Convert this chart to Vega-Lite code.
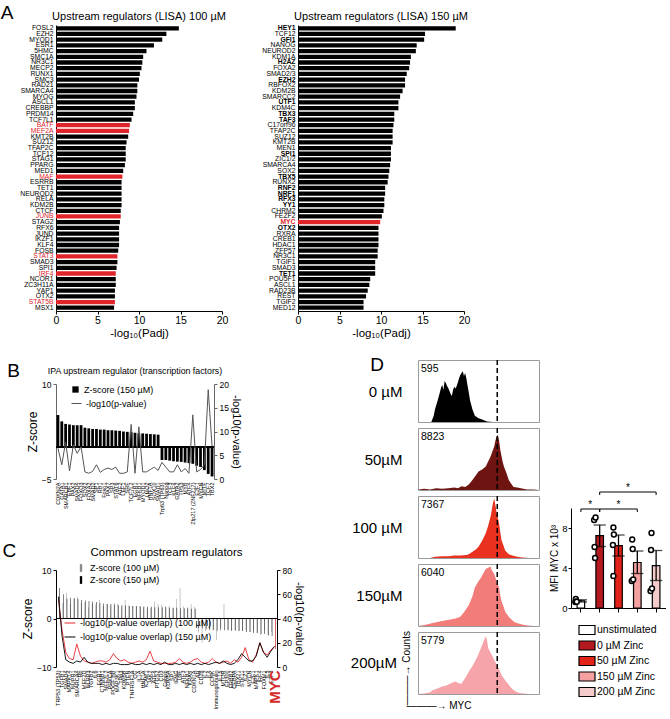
{
"$schema": "https://vega.github.io/schema/vega-lite/v6.json",
"padding": {"left": 0, "top": 3, "right": 0, "bottom": 0},
"background": "white",
"config": {
  "font": "Liberation Sans",
  "view": {"stroke": null},
  "axis": {"labelFont": "Liberation Sans", "titleFont": "Liberation Sans", "titleFontWeight": "normal", "grid": false, "domainColor": "#000", "tickColor": "#000", "labelColor": "#000", "titleColor": "#000"},
  "legend": {"labelFont": "Liberation Sans", "titleFont": "Liberation Sans", "labelColor": "#000"},
  "title": {"font": "Liberation Sans", "fontWeight": "normal", "color": "#000"}
},
"datasets": {
  "lisa100": [
    {"tf":"FOSL2","padj":14.8},{"tf":"EZH2","padj":13.3},{"tf":"MYOD1","padj":12.8},{"tf":"ESR1","padj":11.8},{"tf":"5HMC","padj":10.9},
    {"tf":"SMC1A","padj":10.5},{"tf":"NR3C1","padj":10.4},{"tf":"MECP2","padj":10.3},{"tf":"RUNX1","padj":10.1},{"tf":"SMC3","padj":10.0},
    {"tf":"RAD21","padj":9.8},{"tf":"SMARCA4","padj":9.8},{"tf":"MYOG","padj":9.7},{"tf":"ASCL1","padj":9.5},{"tf":"CREBBP","padj":9.5},
    {"tf":"PRDM14","padj":9.3},{"tf":"TCF7L1","padj":9.1},{"tf":"BATF","padj":8.9},{"tf":"MEF2A","padj":8.8},{"tf":"KMT2B","padj":8.7},
    {"tf":"SUZ12","padj":8.5},{"tf":"TFAP2C","padj":8.4},{"tf":"TCF12","padj":8.4},{"tf":"STAG1","padj":8.4},{"tf":"PPARG","padj":8.3},
    {"tf":"MED1","padj":8.1},{"tf":"MAF","padj":8.0},{"tf":"ESRRB","padj":7.9},{"tf":"TET1","padj":7.9},{"tf":"NEUROD2","padj":7.9},
    {"tf":"RELA","padj":7.9},{"tf":"KDM2B","padj":7.9},{"tf":"CTCF","padj":7.8},{"tf":"JUNB","padj":7.8},{"tf":"STAG2","padj":7.7},
    {"tf":"RFX6","padj":7.6},{"tf":"JUND","padj":7.6},{"tf":"IKZF1","padj":7.6},{"tf":"KLF4","padj":7.6},{"tf":"FOSB","padj":7.5},
    {"tf":"STAT3","padj":7.4},{"tf":"SMAD3","padj":7.4},{"tf":"SPI1","padj":7.3},{"tf":"IRF4","padj":7.2},{"tf":"NCOR1","padj":7.2},
    {"tf":"ZC3H11A","padj":7.2},{"tf":"YAP1","padj":7.1},{"tf":"OTX2","padj":7.1},{"tf":"STAT5B","padj":7.1},{"tf":"MSX1","padj":7.0}
  ],
  "lisa150": [
    {"tf":"HEY1","padj":19.0},{"tf":"TCF12","padj":15.3},{"tf":"GFI1","padj":15.2},{"tf":"NANOG","padj":14.3},{"tf":"NEUROD2","padj":14.2},
    {"tf":"KDM1A","padj":13.6},{"tf":"H2AZ","padj":13.5},{"tf":"FOXA2","padj":13.4},{"tf":"SMAD2/3","padj":13.1},{"tf":"EZH2","padj":12.9},
    {"tf":"RBFOX2","padj":12.9},{"tf":"KDM2B","padj":12.6},{"tf":"SMARCC2","padj":12.3},{"tf":"UTF1","padj":12.1},{"tf":"KDM4C","padj":12.1},
    {"tf":"TBX3","padj":11.6},{"tf":"TAF3","padj":11.6},{"tf":"C17orf96","padj":11.5},{"tf":"TFAP2C","padj":11.4},{"tf":"SUZ12","padj":11.4},
    {"tf":"KMT2B","padj":11.4},{"tf":"MEN1","padj":11.2},{"tf":"SPI1","padj":11.2},{"tf":"ZIC1/2","padj":11.2},{"tf":"SMARCA4","padj":11.1},
    {"tf":"SOX2","padj":11.0},{"tf":"TBX5","padj":10.9},{"tf":"RUNX2","padj":10.8},{"tf":"RNF2","padj":10.5},{"tf":"NRF1","padj":10.5},
    {"tf":"RFX3","padj":10.4},{"tf":"YY1","padj":10.4},{"tf":"CHRM2","padj":10.3},{"tf":"FEZF2","padj":10.1},{"tf":"MYC","padj":9.9},
    {"tf":"OTX2","padj":9.7},{"tf":"RXRA","padj":9.7},{"tf":"CREB1","padj":9.7},{"tf":"HDAC1","padj":9.7},{"tf":"ZFP57","padj":9.6},
    {"tf":"NR3C1","padj":9.6},{"tf":"TGIF1","padj":9.3},{"tf":"SMAD3","padj":9.3},{"tf":"TET1","padj":9.3},{"tf":"POU5F1","padj":8.7},
    {"tf":"ASCL1","padj":8.6},{"tf":"RAD23B","padj":8.4},{"tf":"REST","padj":8.2},{"tf":"TGIF2","padj":7.9},{"tf":"MED12","padj":7.9}
  ],
  "ipa": [
    {"tf":"CDKN2A","z":5.1,"p":6.5},{"tf":"GATA1","z":4.1,"p":3.0},{"tf":"SMARCB1","z":3.7,"p":7.8},{"tf":"EBF1","z":3.6,"p":1.7},
    {"tf":"PAX2","z":3.5,"p":7.2},{"tf":"SMAD4","z":3.5,"p":5.4},{"tf":"FOXO3","z":3.5,"p":6.8},{"tf":"SOX2","z":3.1,"p":1.5},
    {"tf":"FOXA2","z":3.0,"p":1.2},{"tf":"SMAD2","z":2.9,"p":1.6},{"tf":"SP1","z":2.9,"p":3.0},{"tf":"RB1","z":2.8,"p":1.4},
    {"tf":"Foxo1","z":2.8,"p":2.0},{"tf":"PAX7","z":2.7,"p":2.3},{"tf":"SP3","z":2.7,"p":2.0},{"tf":"STAT6","z":2.65,"p":2.5},
    {"tf":"ATF2","z":2.6,"p":1.2},{"tf":"LEF1","z":2.5,"p":1.2},{"tf":"SRF","z":2.45,"p":1.5},{"tf":"TCF7L2","z":2.4,"p":11.5},
    {"tf":"EGR1","z":2.3,"p":1.2},{"tf":"NFKB1","z":2.2,"p":11.0},{"tf":"MYOD1","z":2.2,"p":1.5},{"tf":"LMO2","z":2.15,"p":1.5},
    {"tf":"HNF1A","z":2.1,"p":2.0},{"tf":"SOX10","z":2.05,"p":2.5},{"tf":"SMAD1","z":2.0,"p":1.8},{"tf":"Trp63 (TP63)","z":-2.0,"p":3.5},
    {"tf":"Nanog","z":-2.0,"p":2.5},{"tf":"TCF3","z":-2.1,"p":1.5},{"tf":"KLF4","z":-2.2,"p":1.5},{"tf":"GATA2","z":-2.25,"p":3.0},
    {"tf":"TP53","z":-2.3,"p":1.5},{"tf":"MYB","z":-2.4,"p":2.2},{"tf":"ATF4","z":-2.5,"p":1.2},{"tf":"Zfp217 (ZNF217)","z":-2.6,"p":13.5},
    {"tf":"E2F1","z":-2.9,"p":1.5},{"tf":"MYCN","z":-3.1,"p":2.0},{"tf":"MITF","z":-3.6,"p":3.0},{"tf":"TCF7","z":-4.2,"p":18.8},
    {"tf":"TBX2","z":-4.6,"p":6.9}
  ],
  "common": [
    {"reg":"TRP53 (TP53)","z100":4.6,"z150":6.3,"p100":56,"p150":58},
    {"reg":"TGFB1","z100":3.2,"z150":5.0,"p100":30,"p150":25},
    {"reg":"SMAD4","z100":5.3,"z150":4.1,"p100":12,"p150":6},
    {"reg":"MAPK14","z100":3.0,"z150":4.3,"p100":7,"p150":4},
    {"reg":"NUPR1","z100":4.2,"z150":4.2,"p100":6,"p150":3},
    {"reg":"SMARCA4","z100":4.5,"z150":4.0,"p100":19,"p150":5},
    {"reg":"Rb","z100":3.2,"z150":3.8,"p100":9,"p150":4},
    {"reg":"MEF2D","z100":3.3,"z150":3.7,"p100":5,"p150":8},
    {"reg":"NLRP3","z100":2.3,"z150":3.6,"p100":4,"p150":4},
    {"reg":"TGFB2","z100":3.0,"z150":3.5,"p100":3,"p150":3},
    {"reg":"IL6","z100":2.9,"z150":3.4,"p100":4,"p150":3},
    {"reg":"EGR1","z100":3.8,"z150":3.2,"p100":5,"p150":3},
    {"reg":"CTNNB1","z100":2.6,"z150":3.1,"p100":5,"p150":2},
    {"reg":"NFE2L2","z100":3.0,"z150":3.0,"p100":4,"p150":3},
    {"reg":"PRKCA","z100":2.7,"z150":3.0,"p100":6,"p150":2},
    {"reg":"PDGF BB","z100":3.2,"z150":2.9,"p100":11,"p150":3},
    {"reg":"MAP3K1","z100":3.0,"z150":2.8,"p100":7,"p150":3},
    {"reg":"TP63","z100":2.3,"z150":2.8,"p100":5,"p150":2},
    {"reg":"KDM5B","z100":3.8,"z150":2.7,"p100":6,"p150":2},
    {"reg":"PTEN","z100":2.7,"z150":2.6,"p100":4,"p150":2},
    {"reg":"TNFRSF1A","z100":2.6,"z150":2.6,"p100":3,"p150":3},
    {"reg":"CG","z100":2.5,"z150":2.6,"p100":4,"p150":2},
    {"reg":"IL1A","z100":2.6,"z150":2.5,"p100":5,"p150":2},
    {"reg":"HNF1A","z100":2.3,"z150":2.5,"p100":4,"p150":3},
    {"reg":"ICAM1","z100":2.0,"z150":2.4,"p100":6,"p150":2},
    {"reg":"JAK2","z100":2.2,"z150":2.4,"p100":13,"p150":3},
    {"reg":"ATF4","z100":3.5,"z150":2.3,"p100":5,"p150":2},
    {"reg":"PTGS2","z100":3.0,"z150":2.3,"p100":4,"p150":3},
    {"reg":"CD3","z100":2.8,"z150":2.3,"p100":3,"p150":2},
    {"reg":"Cebpb","z100":2.6,"z150":2.3,"p100":3,"p150":4},
    {"reg":"KDM5A","z100":2.6,"z150":2.2,"p100":3,"p150":2},
    {"reg":"SP1","z100":2.1,"z150":2.2,"p100":3,"p150":2},
    {"reg":"IFNG","z100":4.0,"z150":2.2,"p100":4,"p150":3},
    {"reg":"TNF","z100":6.3,"z150":2.1,"p100":7,"p150":2},
    {"reg":"ATF3","z100":2.5,"z150":2.1,"p100":4,"p150":3},
    {"reg":"NFKB1","z100":2.3,"z150":2.1,"p100":3,"p150":2},
    {"reg":"KRAS","z100":3.0,"z150":2.0,"p100":4,"p150":3},
    {"reg":"CDKN1A","z100":2.4,"z150":2.0,"p100":6,"p150":2},
    {"reg":"AR","z100":-2.9,"z150":-2.0,"p100":7,"p150":3},
    {"reg":"CD28","z100":-5.0,"z150":-2.0,"p100":4,"p150":2},
    {"reg":"IL2","z100":-2.6,"z150":-2.2,"p100":3,"p150":3},
    {"reg":"IL4","z100":-2.4,"z150":-2.3,"p100":4,"p150":2},
    {"reg":"CCNK","z100":-2.5,"z150":-2.3,"p100":7,"p150":3},
    {"reg":"Immunoglobulin","z100":-4.4,"z150":-2.5,"p100":4,"p150":4},
    {"reg":"IL15","z100":-2.6,"z150":-2.2,"p100":3,"p150":3},
    {"reg":"MTOR","z100":3.0,"z150":-2.4,"p100":4,"p150":5},
    {"reg":"EP300","z100":-2.3,"z150":-2.4,"p100":5,"p150":3},
    {"reg":"ERBB2","z100":-2.5,"z150":-2.5,"p100":3,"p150":2},
    {"reg":"CEBPA","z100":-2.3,"z150":-2.5,"p100":6,"p150":3},
    {"reg":"TBX21","z100":-2.6,"z150":-2.6,"p100":4,"p150":6},
    {"reg":"STK11","z100":-2.5,"z150":-2.6,"p100":8,"p150":11},
    {"reg":"IL21","z100":-2.4,"z150":-2.8,"p100":16,"p150":8},
    {"reg":"MYCN","z100":-2.8,"z150":-2.8,"p100":6,"p150":5},
    {"reg":"E2F1","z100":-2.5,"z150":-3.0,"p100":4,"p150":5},
    {"reg":"MAPK1","z100":-3.0,"z150":-3.0,"p100":10,"p150":9},
    {"reg":"IRF4","z100":-3.4,"z150":-3.2,"p100":20,"p150":20},
    {"reg":"FOXM1","z100":-2.5,"z150":-3.2,"p100":12,"p150":12},
    {"reg":"IL5","z100":-3.4,"z150":-3.5,"p100":10,"p150":8},
    {"reg":"E2F3","z100":-2.8,"z150":-3.6,"p100":14,"p150":13},
    {"reg":"MYC","z100":-6.3,"z150":-6.3,"p100":17,"p150":17}
  ],
  "hist": [
    {"conc":"0 µM","myc":0,"count":0},{"conc":"0 µM","myc":11,"count":0},{"conc":"0 µM","myc":13,"count":10},{"conc":"0 µM","myc":14,"count":20},
    {"conc":"0 µM","myc":16,"count":33},{"conc":"0 µM","myc":18,"count":47},{"conc":"0 µM","myc":19,"count":55},{"conc":"0 µM","myc":20,"count":60},
    {"conc":"0 µM","myc":21,"count":52},{"conc":"0 µM","myc":22,"count":66},{"conc":"0 µM","myc":23,"count":63},{"conc":"0 µM","myc":24,"count":58},
    {"conc":"0 µM","myc":25,"count":55},{"conc":"0 µM","myc":26,"count":50},{"conc":"0 µM","myc":27,"count":45},{"conc":"0 µM","myc":28,"count":42},
    {"conc":"0 µM","myc":29,"count":52},{"conc":"0 µM","myc":30,"count":57},{"conc":"0 µM","myc":31,"count":54},{"conc":"0 µM","myc":32,"count":58},
    {"conc":"0 µM","myc":33,"count":64},{"conc":"0 µM","myc":34,"count":71},{"conc":"0 µM","myc":35,"count":76},{"conc":"0 µM","myc":36,"count":79},
    {"conc":"0 µM","myc":37,"count":82},{"conc":"0 µM","myc":38,"count":74},{"conc":"0 µM","myc":39,"count":79},{"conc":"0 µM","myc":40,"count":70},
    {"conc":"0 µM","myc":41,"count":58},{"conc":"0 µM","myc":42,"count":47},{"conc":"0 µM","myc":43,"count":35},{"conc":"0 µM","myc":45,"count":20},
    {"conc":"0 µM","myc":47,"count":10},{"conc":"0 µM","myc":50,"count":6},{"conc":"0 µM","myc":53,"count":4},{"conc":"0 µM","myc":57,"count":1},
    {"conc":"0 µM","myc":62,"count":0},{"conc":"0 µM","myc":100,"count":0},
    {"conc":"50µM","myc":0,"count":0},{"conc":"50µM","myc":1,"count":1},{"conc":"50µM","myc":5,"count":2},{"conc":"50µM","myc":10,"count":1},
    {"conc":"50µM","myc":15,"count":3},{"conc":"50µM","myc":20,"count":2},{"conc":"50µM","myc":25,"count":3},{"conc":"50µM","myc":30,"count":4},
    {"conc":"50µM","myc":33,"count":3},{"conc":"50µM","myc":36,"count":6},{"conc":"50µM","myc":39,"count":5},{"conc":"50µM","myc":42,"count":9},
    {"conc":"50µM","myc":45,"count":16},{"conc":"50µM","myc":48,"count":24},{"conc":"50µM","myc":50,"count":30},{"conc":"50µM","myc":53,"count":33},
    {"conc":"50µM","myc":56,"count":38},{"conc":"50µM","myc":58,"count":46},{"conc":"50µM","myc":60,"count":54},{"conc":"50µM","myc":62,"count":65},
    {"conc":"50µM","myc":63,"count":70},{"conc":"50µM","myc":64,"count":80},{"conc":"50µM","myc":65,"count":86},{"conc":"50µM","myc":66,"count":89},
    {"conc":"50µM","myc":67,"count":80},{"conc":"50µM","myc":68,"count":65},{"conc":"50µM","myc":69,"count":55},{"conc":"50µM","myc":70,"count":45},
    {"conc":"50µM","myc":71,"count":38},{"conc":"50µM","myc":73,"count":28},{"conc":"50µM","myc":75,"count":16},{"conc":"50µM","myc":77,"count":10},
    {"conc":"50µM","myc":79,"count":5},{"conc":"50µM","myc":82,"count":4},{"conc":"50µM","myc":85,"count":3},{"conc":"50µM","myc":90,"count":1},
    {"conc":"50µM","myc":95,"count":1},{"conc":"50µM","myc":100,"count":0},
    {"conc":"100 µM","myc":0,"count":0},{"conc":"100 µM","myc":10,"count":0},{"conc":"100 µM","myc":14,"count":2},{"conc":"100 µM","myc":20,"count":3},
    {"conc":"100 µM","myc":25,"count":3},{"conc":"100 µM","myc":30,"count":4},{"conc":"100 µM","myc":35,"count":4},{"conc":"100 µM","myc":40,"count":5},
    {"conc":"100 µM","myc":42,"count":6},{"conc":"100 µM","myc":45,"count":10},{"conc":"100 µM","myc":48,"count":14},{"conc":"100 µM","myc":50,"count":18},
    {"conc":"100 µM","myc":53,"count":28},{"conc":"100 µM","myc":56,"count":40},{"conc":"100 µM","myc":58,"count":52},{"conc":"100 µM","myc":60,"count":67},
    {"conc":"100 µM","myc":61,"count":78},{"conc":"100 µM","myc":62,"count":89},{"conc":"100 µM","myc":63,"count":96},{"conc":"100 µM","myc":64,"count":85},
    {"conc":"100 µM","myc":65,"count":73},{"conc":"100 µM","myc":66,"count":64},{"conc":"100 µM","myc":67,"count":56},{"conc":"100 µM","myc":68,"count":42},
    {"conc":"100 µM","myc":69,"count":29},{"conc":"100 µM","myc":71,"count":18},{"conc":"100 µM","myc":72,"count":12},{"conc":"100 µM","myc":75,"count":6},
    {"conc":"100 µM","myc":78,"count":4},{"conc":"100 µM","myc":82,"count":2},{"conc":"100 µM","myc":86,"count":1},{"conc":"100 µM","myc":92,"count":0},
    {"conc":"100 µM","myc":100,"count":0},
    {"conc":"150µM","myc":0,"count":0},{"conc":"150µM","myc":3,"count":1},{"conc":"150µM","myc":8,"count":3},{"conc":"150µM","myc":12,"count":5},
    {"conc":"150µM","myc":17,"count":7},{"conc":"150µM","myc":22,"count":9},{"conc":"150µM","myc":26,"count":10},{"conc":"150µM","myc":31,"count":12},
    {"conc":"150µM","myc":35,"count":15},{"conc":"150µM","myc":38,"count":22},{"conc":"150µM","myc":42,"count":34},{"conc":"150µM","myc":45,"count":48},
    {"conc":"150µM","myc":47,"count":62},{"conc":"150µM","myc":50,"count":72},{"conc":"150µM","myc":52,"count":78},{"conc":"150µM","myc":54,"count":85},
    {"conc":"150µM","myc":56,"count":92},{"conc":"150µM","myc":58,"count":94},{"conc":"150µM","myc":60,"count":96},{"conc":"150µM","myc":61,"count":90},
    {"conc":"150µM","myc":63,"count":84},{"conc":"150µM","myc":65,"count":72},{"conc":"150µM","myc":67,"count":62},{"conc":"150µM","myc":68,"count":50},
    {"conc":"150µM","myc":69,"count":40},{"conc":"150µM","myc":71,"count":30},{"conc":"150µM","myc":72,"count":23},{"conc":"150µM","myc":75,"count":15},
    {"conc":"150µM","myc":78,"count":9},{"conc":"150µM","myc":80,"count":6},{"conc":"150µM","myc":83,"count":4},{"conc":"150µM","myc":87,"count":2},
    {"conc":"150µM","myc":91,"count":1},{"conc":"150µM","myc":96,"count":0},{"conc":"150µM","myc":100,"count":0},
    {"conc":"200µM","myc":0,"count":0},{"conc":"200µM","myc":5,"count":1},{"conc":"200µM","myc":10,"count":3},{"conc":"200µM","myc":12,"count":6},
    {"conc":"200µM","myc":15,"count":8},{"conc":"200µM","myc":20,"count":12},{"conc":"200µM","myc":24,"count":14},{"conc":"200µM","myc":28,"count":18},
    {"conc":"200µM","myc":31,"count":20},{"conc":"200µM","myc":34,"count":17},{"conc":"200µM","myc":36,"count":17},{"conc":"200µM","myc":39,"count":26},
    {"conc":"200µM","myc":42,"count":36},{"conc":"200µM","myc":45,"count":45},{"conc":"200µM","myc":47,"count":52},{"conc":"200µM","myc":50,"count":64},
    {"conc":"200µM","myc":52,"count":74},{"conc":"200µM","myc":54,"count":84},{"conc":"200µM","myc":56,"count":93},{"conc":"200µM","myc":57,"count":88},
    {"conc":"200µM","myc":58,"count":74},{"conc":"200µM","myc":60,"count":66},{"conc":"200µM","myc":61,"count":63},{"conc":"200µM","myc":63,"count":55},
    {"conc":"200µM","myc":65,"count":47},{"conc":"200µM","myc":67,"count":40},{"conc":"200µM","myc":69,"count":31},{"conc":"200µM","myc":72,"count":22},
    {"conc":"200µM","myc":75,"count":15},{"conc":"200µM","myc":77,"count":10},{"conc":"200µM","myc":79,"count":6},{"conc":"200µM","myc":83,"count":2},
    {"conc":"200µM","myc":87,"count":1},{"conc":"200µM","myc":92,"count":0},{"conc":"200µM","myc":100,"count":0}
  ],
  "mfi": [
    {"conc":"0 µM","mfi":"595","ref":65.5},{"conc":"50µM","mfi":"8823","ref":65.5},{"conc":"100 µM","mfi":"7367","ref":65.5},
    {"conc":"150µM","mfi":"6040","ref":65.5},{"conc":"200µM","mfi":"5779","ref":65.5}
  ],
  "bars": [
    {"cond":"unstimulated","mean":0.71,"lo":0.6,"hi":0.82},
    {"cond":"0  µM Zinc","mean":7.24,"lo":6.15,"hi":8.3},
    {"cond":"50  µM Zinc","mean":6.23,"lo":5.2,"hi":7.3},
    {"cond":"150  µM Zinc","mean":4.55,"lo":3.45,"hi":5.7},
    {"cond":"200  µM Zinc","mean":4.24,"lo":2.75,"hi":5.75}
  ],
  "pts": [
    {"cond":"unstimulated","rep":"r1","v":0.6},{"cond":"unstimulated","rep":"r2","v":0.9},{"cond":"unstimulated","rep":"r3","v":0.65},{"cond":"unstimulated","rep":"r4","v":0.62},
    {"cond":"0  µM Zinc","rep":"r1","v":8.8},{"cond":"0  µM Zinc","rep":"r2","v":6.1},{"cond":"0  µM Zinc","rep":"r3","v":5.0},{"cond":"0  µM Zinc","rep":"r4","v":9.05},
    {"cond":"50  µM Zinc","rep":"r1","v":6.3},{"cond":"50  µM Zinc","rep":"r2","v":8.05},{"cond":"50  µM Zinc","rep":"r3","v":7.35},{"cond":"50  µM Zinc","rep":"r2","v":3.2},
    {"cond":"150  µM Zinc","rep":"r1","v":2.7},{"cond":"150  µM Zinc","rep":"r2","v":6.85},{"cond":"150  µM Zinc","rep":"r3","v":5.9},{"cond":"150  µM Zinc","rep":"r4","v":2.85},
    {"cond":"200  µM Zinc","rep":"r1","v":1.7},{"cond":"200  µM Zinc","rep":"r2","v":5.8},{"cond":"200  µM Zinc","rep":"r3","v":7.5},{"cond":"200  µM Zinc","rep":"r4","v":1.95}
  ],
  "brackets": [
    {"g1":"unstimulated","g2":"0  µM Zinc","y":9.9,"yend":9.6},
    {"g1":"0  µM Zinc","g2":"150  µM Zinc","y":9.9,"yend":9.6},
    {"g1":"0  µM Zinc","g2":"200  µM Zinc","y":11.6,"yend":11.3}
  ],
  "stars": [
    {"over":"unstimulated","y":10.35,"pos":"mid"},
    {"over":"50  µM Zinc","y":10.35,"pos":"center"},
    {"over":"50  µM Zinc","y":12.05,"pos":"mid"}
  ]
},
"resolve": {"scale": {"color": "independent", "fill": "independent", "stroke": "independent"}},
"columns": 1,
"align": "none",
"spacing": 16,
"concat": [
  {
    "title": {"text": "A", "anchor": "start", "fontSize": 19, "offset": -12, "dx": -19},
    "resolve": {"scale": {"color": "independent", "fill": "independent", "stroke": "independent"}},
    "hconcat": [
      {
        "width": 166, "height": 286,
        "title": {"text": "Upstream regulators (LISA) 100 µM", "fontSize": 11, "offset": 3},
        "data": {"name": "lisa100"},
        "mark": {"type": "bar"},
        "encoding": {
          "y": {"field": "tf", "type": "nominal", "sort": null,
                "scale": {"paddingInner": 0.25, "paddingOuter": 0.2},
                "axis": {"title": null, "ticks": false, "labelFontSize": 6.8, "labelPadding": 3, "labelOverlap": false,
                         "labelColor": {"condition": {"test": "indexof(['BATF','MEF2A','MAF','JUNB','STAT3','IRF4','STAT5B'], datum.value) >= 0", "value": "#e0242a"}, "value": "#000"}}},
          "x": {"field": "padj", "type": "quantitative", "scale": {"domain": [0, 20], "nice": false},
                "axis": {"values": [0, 5, 10, 15, 20], "title": "-log₁₀(Padj)", "titleFontSize": 11.5, "labelFontSize": 10.5, "tickSize": 3, "labelPadding": 1, "labelFlush": false, "titlePadding": 2}},
          "color": {"condition": {"test": "indexof(['BATF','MEF2A','MAF','JUNB','STAT3','IRF4','STAT5B'], datum.tf) >= 0", "value": "#e0242a"}, "value": "#000"}
        }
      },
      {
        "width": 166, "height": 286,
        "title": {"text": "Upstream regulators (LISA) 150 µM", "fontSize": 11, "offset": 3},
        "data": {"name": "lisa150"},
        "mark": {"type": "bar"},
        "encoding": {
          "y": {"field": "tf", "type": "nominal", "sort": null,
                "scale": {"paddingInner": 0.25, "paddingOuter": 0.2},
                "axis": {"title": null, "ticks": false, "labelFontSize": 6.8, "labelPadding": 3, "labelOverlap": false,
                         "labelFontWeight": {"condition": {"test": "indexof(['HEY1','GFI1','H2AZ','EZH2','UTF1','TBX3','TAF3','SPI1','TBX5','RNF2','NRF1','RFX3','YY1','OTX2','TET1','MYC'], datum.value) >= 0", "value": "bold"}, "value": "normal"},
                         "labelColor": {"condition": {"test": "datum.value === 'MYC'", "value": "#e0242a"}, "value": "#000"}}},
          "x": {"field": "padj", "type": "quantitative", "scale": {"domain": [0, 20], "nice": false},
                "axis": {"values": [0, 5, 10, 15, 20], "title": "-log₁₀(Padj)", "titleFontSize": 11.5, "labelFontSize": 10.5, "tickSize": 3, "labelPadding": 1, "labelFlush": false, "titlePadding": 2}},
          "color": {"condition": {"test": "datum.tf === 'MYC'", "value": "#e0242a"}, "value": "#000"}
        }
      }
    ],
    "spacing": 33
  },
  {
    "resolve": {"scale": {"color": "independent", "fill": "independent", "stroke": "independent"}},
    "align": "none",
    "spacing": 45,
    "concat": [
      {
        "resolve": {"scale": {"color": "independent", "fill": "independent", "stroke": "independent"}},
        "columns": 1,
        "align": "none",
        "spacing": 1,
        "concat": [
          {"width": 1, "height": 1, "data": {"values": []}, "mark": "point"},
          {
            "title": {"text": "B", "anchor": "start", "fontSize": 19, "offset": -14, "dx": -19},
            "vconcat": [
              {
                "width": 158, "height": 95,
                "title": {"text": "IPA upstream regulator (transcription factors)", "fontSize": 8.8, "offset": 4},
                "data": {"name": "ipa"},
                "layer": [
                  {
                    "layer": [
                      {
                        "mark": {"type": "bar", "width": {"band": 0.85}},
                        "encoding": {
                          "x": {"field": "tf", "type": "nominal", "sort": null, "scale": {"paddingInner": 0.15},
                                "axis": {"title": null, "labelAngle": -90, "labelFontSize": 5.5, "labelPadding": 3, "ticks": false, "domain": false, "labelOverlap": false}},
                          "y": {"field": "z", "type": "quantitative", "scale": {"domain": [-5, 10], "nice": false},
                                "axis": {"title": "Z-score", "titleFontSize": 12, "values": [-5, 0, 5, 10], "labelFontSize": 8.5, "tickSize": 3, "domainColor": "#666", "tickColor": "#666", "titlePadding": 2}},
                          "fill": {"datum": "Z-score (150 µM)", "scale": {"range": ["#000"]},
                                   "legend": {"title": null, "orient": "none", "legendX": 15, "legendY": 1, "symbolType": "square", "symbolSize": 40, "labelFontSize": 9}}
                        }
                      },
                      {"mark": {"type": "rule", "color": "#000", "strokeWidth": 1}, "encoding": {"y": {"datum": 0}}}
                    ]
                  },
                  {
                    "mark": {"type": "line", "strokeWidth": 1},
                    "encoding": {
                      "x": {"field": "tf", "type": "nominal", "sort": null},
                      "y": {"field": "p", "type": "quantitative", "scale": {"domain": [0, 20], "nice": false},
                            "axis": {"orient": "right", "title": "-log10(p-value)", "titleFontSize": 11, "values": [0, 5, 10, 15, 20], "labelFontSize": 8.5, "tickSize": 3, "domainColor": "#666", "tickColor": "#666", "titlePadding": 2}},
                      "stroke": {"datum": "-log10(p-value)", "scale": {"range": ["#555"]},
                                 "legend": {"title": null, "orient": "none", "legendX": 15, "legendY": 14, "symbolType": "stroke", "symbolSize": 100, "symbolStrokeWidth": 1, "labelFontSize": 9}}
                    }
                  }
                ],
                "resolve": {"scale": {"y": "independent", "fill": "independent", "stroke": "independent"}}
              }
            ]
          },
          {"width": 1, "height": 14, "data": {"values": []}, "mark": "point"},
          {
            "title": {"text": "C", "anchor": "start", "fontSize": 19, "offset": -14, "dx": -19},
            "vconcat": [
              {
                "width": 221, "height": 97,
                "title": {"text": "Common upstream regulators", "fontSize": 11.5, "offset": 5},
                "data": {"name": "common"},
                "layer": [
                  {
                    "layer": [
                      {
                        "transform": [{"fold": ["z100", "z150"], "as": ["series", "z"]}],
                        "mark": {"type": "bar"},
                        "encoding": {
                          "x": {"field": "reg", "type": "nominal", "sort": null, "scale": {"paddingInner": 0.05},
                                "axis": {"title": null, "labelAngle": -90, "labelPadding": 3, "ticks": false, "domain": false, "labelOverlap": false,
                                         "labelFontSize": {"condition": {"test": "datum.value === 'MYC'", "value": 15}, "value": 5.5},
                                         "labelFontWeight": {"condition": {"test": "datum.value === 'MYC'", "value": "bold"}, "value": "normal"},
                                         "labelColor": {"condition": {"test": "datum.value === 'MYC'", "value": "#d42a2a"}, "value": "#000"}}},
                          "xOffset": {"field": "series", "type": "nominal", "sort": ["z100", "z150"], "scale": {"paddingInner": 0}},
                          "y": {"field": "z", "type": "quantitative", "scale": {"domain": [-10, 10], "nice": false},
                                "axis": {"title": "Z-score", "titleFontSize": 12, "values": [-10, -5, 0, 5, 10], "labelFontSize": 8.5, "tickSize": 3, "titlePadding": 2}},
                          "fill": {"condition": {"test": "datum.reg === 'MYC'", "value": "#d42a2a"},
                                   "field": "series", "type": "nominal", "scale": {"domain": ["z100", "z150"], "range": ["#8a8a8a", "#000"]},
                                   "legend": {"title": null, "orient": "none", "legendX": 20, "legendY": -7, "symbolType": "M-0.3,-1H0.3V1H-0.3Z", "symbolSize": 60, "labelFontSize": 9, "rowPadding": 2,
                                              "labelExpr": "datum.label === 'z100' ? 'Z-score (100 µM)' : 'Z-score (150 µM)'"}}
                        }
                      },
                      {"mark": {"type": "rule", "color": "#000", "strokeWidth": 1}, "encoding": {"y": {"datum": 0}}}
                    ]
                  },
                  {
                    "transform": [{"fold": ["p100", "p150"], "as": ["pseries", "p"]}],
                    "mark": {"type": "line", "strokeWidth": 0.9},
                    "encoding": {
                      "x": {"field": "reg", "type": "nominal", "sort": null},
                      "y": {"field": "p", "type": "quantitative", "scale": {"domain": [0, 80], "nice": false},
                            "axis": {"orient": "right", "title": "-log10(p-value)", "titleFontSize": 11, "values": [0, 20, 40, 60, 80], "labelFontSize": 8.5, "tickSize": 3, "titlePadding": 2}},
                      "stroke": {"field": "pseries", "type": "nominal", "scale": {"domain": ["p100", "p150"], "range": ["#e8292e", "#000"]},
                                 "legend": {"title": null, "orient": "none", "legendX": 8, "legendY": 47, "symbolType": "stroke", "symbolSize": 120, "symbolStrokeWidth": 1, "labelFontSize": 9, "rowPadding": 3,
                                            "labelExpr": "datum.label === 'p100' ? '-log10(p-value overlap) (100 µM)' : '-log10(p-value overlap) (150 µM)'"}}
                    }
                  }
                ],
                "resolve": {"scale": {"y": "independent", "fill": "independent", "stroke": "independent"}}
              }
            ]
          }
        ]
      },
      {
        "title": {"text": "D", "anchor": "start", "fontSize": 19, "offset": -16, "dx": 20},
        "resolve": {"scale": {"color": "independent", "fill": "independent", "stroke": "independent"}},
        "align": "none",
        "spacing": 9,
        "concat": [
          {
            "bounds": "flush",
            "vconcat": [
              {
                "width": 121, "height": 62, "view": {"stroke": "#9a9a9a"},
                "layer": [
                  {"data": {"name": "hist"}, "transform": [{"filter": "datum.conc === '0 µM'"}], "mark": {"type": "area", "color": "#000"},
                   "encoding": {"x": {"field": "myc", "type": "quantitative", "scale": {"domain": [0, 100], "nice": false}, "axis": null},
                                "y": {"field": "count", "type": "quantitative", "scale": {"domain": [0, 100], "nice": false},
                                      "axis": {"title": "0 µM", "labels": false, "ticks": false, "domain": false, "titleAngle": 0, "titleAlign": "right", "titleBaseline": "middle", "titleFontSize": 15, "titlePadding": 16}}}},
                  {"data": {"name": "mfi"}, "transform": [{"filter": "datum.conc === '0 µM'"}], "mark": {"type": "rule", "strokeDash": [5, 3], "strokeWidth": 1.5, "color": "#000"},
                   "encoding": {"x": {"field": "ref", "type": "quantitative"}}},
                  {"data": {"name": "mfi"}, "transform": [{"filter": "datum.conc === '0 µM'"}], "mark": {"type": "text", "align": "left", "baseline": "top", "fontSize": 10.5, "dx": 3, "dy": 4},
                   "encoding": {"x": {"datum": 0}, "y": {"datum": 100}, "text": {"field": "mfi", "type": "nominal"}}}
                ]
              },
              {
                "width": 121, "height": 62, "view": {"stroke": "#9a9a9a"},
                "layer": [
                  {"data": {"name": "hist"}, "transform": [{"filter": "datum.conc === '50µM'"}], "mark": {"type": "area", "color": "#6e1411"},
                   "encoding": {"x": {"field": "myc", "type": "quantitative", "scale": {"domain": [0, 100], "nice": false}, "axis": null},
                                "y": {"field": "count", "type": "quantitative", "scale": {"domain": [0, 100], "nice": false},
                                      "axis": {"title": "50µM", "labels": false, "ticks": false, "domain": false, "titleAngle": 0, "titleAlign": "right", "titleBaseline": "middle", "titleFontSize": 15, "titlePadding": 16}}}},
                  {"data": {"name": "mfi"}, "transform": [{"filter": "datum.conc === '50µM'"}], "mark": {"type": "rule", "strokeDash": [5, 3], "strokeWidth": 1.5, "color": "#000"},
                   "encoding": {"x": {"field": "ref", "type": "quantitative"}}},
                  {"data": {"name": "mfi"}, "transform": [{"filter": "datum.conc === '50µM'"}], "mark": {"type": "text", "align": "left", "baseline": "top", "fontSize": 10.5, "dx": 3, "dy": 4},
                   "encoding": {"x": {"datum": 0}, "y": {"datum": 100}, "text": {"field": "mfi", "type": "nominal"}}}
                ]
              },
              {
                "width": 121, "height": 62, "view": {"stroke": "#9a9a9a"},
                "layer": [
                  {"data": {"name": "hist"}, "transform": [{"filter": "datum.conc === '100 µM'"}], "mark": {"type": "area", "color": "#e8311f"},
                   "encoding": {"x": {"field": "myc", "type": "quantitative", "scale": {"domain": [0, 100], "nice": false}, "axis": null},
                                "y": {"field": "count", "type": "quantitative", "scale": {"domain": [0, 100], "nice": false},
                                      "axis": {"title": "100 µM", "labels": false, "ticks": false, "domain": false, "titleAngle": 0, "titleAlign": "right", "titleBaseline": "middle", "titleFontSize": 15, "titlePadding": 16}}}},
                  {"data": {"name": "mfi"}, "transform": [{"filter": "datum.conc === '100 µM'"}], "mark": {"type": "rule", "strokeDash": [5, 3], "strokeWidth": 1.5, "color": "#000"},
                   "encoding": {"x": {"field": "ref", "type": "quantitative"}}},
                  {"data": {"name": "mfi"}, "transform": [{"filter": "datum.conc === '100 µM'"}], "mark": {"type": "text", "align": "left", "baseline": "top", "fontSize": 10.5, "dx": 3, "dy": 4},
                   "encoding": {"x": {"datum": 0}, "y": {"datum": 100}, "text": {"field": "mfi", "type": "nominal"}}}
                ]
              },
              {
                "width": 121, "height": 62, "view": {"stroke": "#9a9a9a"},
                "layer": [
                  {"data": {"name": "hist"}, "transform": [{"filter": "datum.conc === '150µM'"}], "mark": {"type": "area", "color": "#f27c79"},
                   "encoding": {"x": {"field": "myc", "type": "quantitative", "scale": {"domain": [0, 100], "nice": false}, "axis": null},
                                "y": {"field": "count", "type": "quantitative", "scale": {"domain": [0, 100], "nice": false},
                                      "axis": {"title": "150µM", "labels": false, "ticks": false, "domain": false, "titleAngle": 0, "titleAlign": "right", "titleBaseline": "middle", "titleFontSize": 15, "titlePadding": 16}}}},
                  {"data": {"name": "mfi"}, "transform": [{"filter": "datum.conc === '150µM'"}], "mark": {"type": "rule", "strokeDash": [5, 3], "strokeWidth": 1.5, "color": "#000"},
                   "encoding": {"x": {"field": "ref", "type": "quantitative"}}},
                  {"data": {"name": "mfi"}, "transform": [{"filter": "datum.conc === '150µM'"}], "mark": {"type": "text", "align": "left", "baseline": "top", "fontSize": 10.5, "dx": 3, "dy": 4},
                   "encoding": {"x": {"datum": 0}, "y": {"datum": 100}, "text": {"field": "mfi", "type": "nominal"}}}
                ]
              },
              {
                "width": 121, "height": 62, "view": {"stroke": "#9a9a9a"},
                "title": {"text": "200µM", "orient": "left", "angle": 0, "align": "left", "baseline": "middle", "anchor": "middle", "fontSize": 15, "offset": 4},
                "layer": [
                  {"data": {"name": "hist"}, "transform": [{"filter": "datum.conc === '200µM'"}], "mark": {"type": "area", "color": "#f6a4a9"},
                   "encoding": {"x": {"field": "myc", "type": "quantitative", "scale": {"domain": [0, 100], "nice": false},
                                      "axis": {"title": "———→ MYC", "labels": false, "ticks": false, "domain": false, "titleAnchor": "start", "titleAlign": "left", "titleBaseline": "middle", "titleX": -12, "titleY": 11, "titleFontSize": 10}},
                                "y": {"field": "count", "type": "quantitative", "scale": {"domain": [0, 100], "nice": false},
                                      "axis": {"title": "———→  Counts", "labels": false, "ticks": false, "domain": false, "titleAngle": 270, "titleAlign": "left", "titleBaseline": "middle", "titleX": -12, "titleY": 73, "titleFontSize": 10}}}},
                  {"data": {"name": "mfi"}, "transform": [{"filter": "datum.conc === '200µM'"}], "mark": {"type": "rule", "strokeDash": [5, 3], "strokeWidth": 1.5, "color": "#000"},
                   "encoding": {"x": {"field": "ref", "type": "quantitative"}}},
                  {"data": {"name": "mfi"}, "transform": [{"filter": "datum.conc === '200µM'"}], "mark": {"type": "text", "align": "left", "baseline": "top", "fontSize": 10.5, "dx": 3, "dy": 4},
                   "encoding": {"x": {"datum": 0}, "y": {"datum": 100}, "text": {"field": "mfi", "type": "nominal"}}}
                ]
              }
            ],
            "spacing": 6
          },
          {
            "resolve": {"scale": {"color": "independent", "fill": "independent", "stroke": "independent"}},
            "vconcat": [
              {"width": 95, "height": 122, "data": {"values": []}, "mark": "point"},
              {
                "width": 95, "height": 100,
                "layer": [
                  {
                    "data": {"name": "bars"},
                    "mark": {"type": "bar", "stroke": "#000", "strokeWidth": 1.2, "width": {"band": 0.62}},
                    "encoding": {
                      "x": {"field": "cond", "type": "nominal", "sort": null, "scale": {"paddingInner": 0.35, "paddingOuter": 0.2},
                            "axis": {"title": null, "labels": false, "tickSize": 4}},
                      "y": {"field": "mean", "type": "quantitative", "title": "MFI MYC x 10³", "scale": {"domain": [0, 10], "nice": false},
                            "axis": {"values": [0, 2, 4, 6, 8, 10], "labelFontSize": 9.5, "titleFontSize": 10, "tickSize": 3, "labelPadding": 1, "titlePadding": 2}},
                      "fill": {"field": "cond", "type": "nominal", "sort": null,
                               "scale": {"range": ["#ffffff", "#b3191f", "#e2231a", "#f6a1a1", "#f4cbcb"]},
                               "legend": {"title": null, "orient": "none", "legendX": 10, "legendY": 116, "symbolType": "M-1.6,-0.9H1.6V0.9H-1.6Z", "symbolSize": 100,
                                          "symbolStrokeColor": "#000", "symbolStrokeWidth": 1.2, "labelFontSize": 10.5, "rowPadding": 1.5}}
                    }
                  },
                  {
                    "data": {"name": "bars"},
                    "mark": {"type": "errorbar", "ticks": true, "color": "#000", "thickness": 1.3},
                    "encoding": {
                      "x": {"field": "cond", "type": "nominal", "sort": null},
                      "y": {"field": "lo", "type": "quantitative", "title": "MFI MYC x 10³"},
                      "y2": {"field": "hi"}
                    }
                  },
                  {
                    "data": {"name": "pts"},
                    "mark": {"type": "point", "shape": "circle", "filled": true, "fill": "#fff", "stroke": "#000", "strokeWidth": 1.5, "size": 24, "opacity": 1},
                    "encoding": {
                      "x": {"field": "cond", "type": "nominal", "sort": null},
                      "xOffset": {"field": "rep", "type": "nominal", "sort": ["r1", "r2", "r3", "r4"], "scale": {"paddingOuter": 0.6}},
                      "y": {"field": "v", "type": "quantitative", "title": "MFI MYC x 10³"}
                    }
                  },
                  {
                    "data": {"name": "brackets"},
                    "mark": {"type": "rule", "color": "#000", "strokeWidth": 1},
                    "encoding": {
                      "x": {"field": "g1", "type": "nominal", "sort": null},
                      "x2": {"field": "g2"},
                      "y": {"field": "y", "type": "quantitative", "title": "MFI MYC x 10³"}
                    }
                  },
                  {
                    "data": {"name": "brackets"},
                    "mark": {"type": "rule", "color": "#000", "strokeWidth": 1},
                    "encoding": {
                      "x": {"field": "g1", "type": "nominal", "sort": null},
                      "y": {"field": "y", "type": "quantitative", "title": "MFI MYC x 10³"},
                      "y2": {"field": "yend"}
                    }
                  },
                  {
                    "data": {"name": "brackets"},
                    "mark": {"type": "rule", "color": "#000", "strokeWidth": 1},
                    "encoding": {
                      "x": {"field": "g2", "type": "nominal", "sort": null},
                      "y": {"field": "y", "type": "quantitative", "title": "MFI MYC x 10³"},
                      "y2": {"field": "yend"}
                    }
                  },
                  {
                    "data": {"name": "stars"},
                    "transform": [{"filter": "datum.pos === 'mid'"}],
                    "mark": {"type": "text", "text": "*", "fontSize": 10, "baseline": "middle"},
                    "encoding": {
                      "x": {"field": "over", "type": "nominal", "sort": null, "bandPosition": 1.27},
                      "y": {"field": "y", "type": "quantitative", "title": "MFI MYC x 10³"}
                    }
                  },
                  {
                    "data": {"name": "stars"},
                    "transform": [{"filter": "datum.pos === 'center'"}],
                    "mark": {"type": "text", "text": "*", "fontSize": 10, "baseline": "middle"},
                    "encoding": {
                      "x": {"field": "over", "type": "nominal", "sort": null},
                      "y": {"field": "y", "type": "quantitative", "title": "MFI MYC x 10³"}
                    }
                  }
                ]
              }
            ],
            "spacing": 0
          }
        ]
      }
    ]
  }
]
}
